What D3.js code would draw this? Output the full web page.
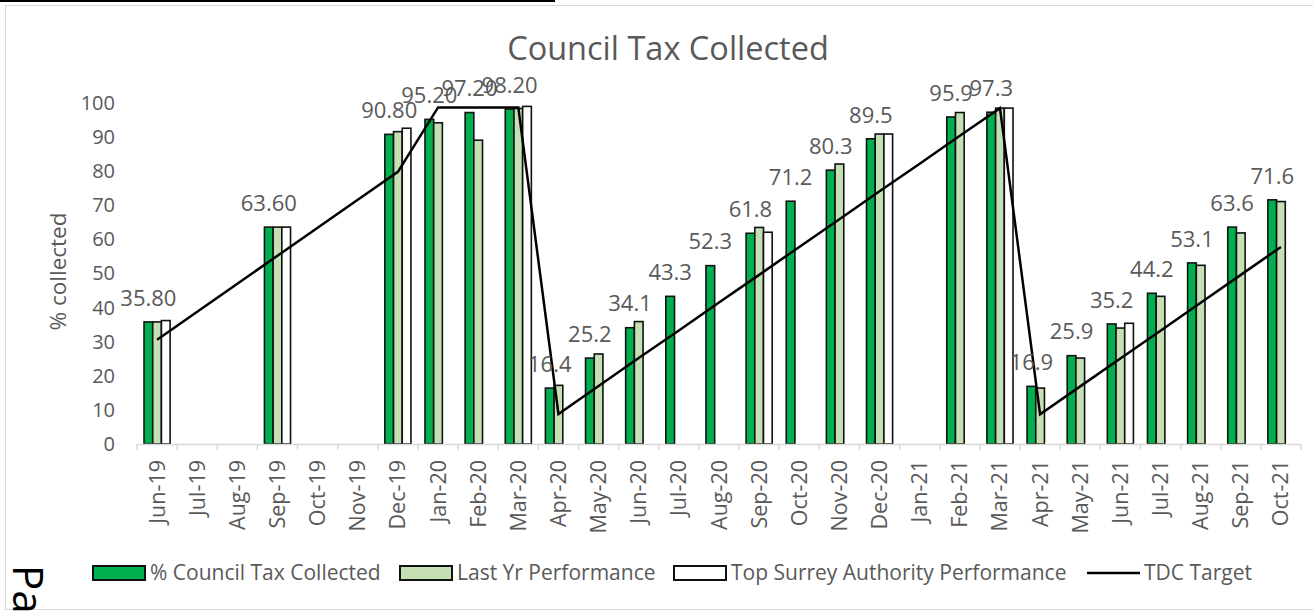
<!DOCTYPE html>
<html>
<head>
<meta charset="utf-8">
<script src="https://cdn.jsdelivr.net/npm/d3@7"></script>
<style>
  body { margin: 0; background: #fff; }
  svg { font-family: "Open Sans", sans-serif; }
</style>
</head>
<body>
<div id="plot"></div>
<script>
// data
var months = ["Jun-19","Jul-19","Aug-19","Sep-19","Oct-19","Nov-19","Dec-19","Jan-20","Feb-20","Mar-20",
              "Apr-20","May-20","Jun-20","Jul-20","Aug-20","Sep-20","Oct-20","Nov-20","Dec-20","Jan-21",
              "Feb-21","Mar-21","Apr-21","May-21","Jun-21","Jul-21","Aug-21","Sep-21","Oct-21"];
var collected = [35.8,null,null,63.6,null,null,90.8,95.2,97.2,98.2,
                 16.4,25.2,34.1,43.3,52.3,61.8,71.2,80.3,89.5,null,
                 95.9,97.3,16.9,25.9,35.2,44.2,53.1,63.6,71.6];
var lastYear = [35.8,null,null,63.6,null,null,91.6,94.2,89.1,98.4,
                17.2,26.4,35.9,null,null,63.5,null,82.1,90.9,null,
                97.2,98.5,16.4,25.2,34.0,43.3,52.4,61.9,71.1];
var topSurrey = [36.2,null,null,63.6,null,null,92.6,null,null,99.0,
                 null,null,null,null,null,62.1,null,null,90.9,null,
                 null,98.5,null,null,35.4,null,null,null,null];
var target = [30.6,38.8,47.0,55.2,63.4,71.6,79.8,98.7,98.7,98.7,
              8.8,17.0,25.2,33.3,41.5,49.6,57.8,65.9,74.1,82.2,
              90.4,98.5,8.7,16.9,25.1,33.2,41.4,49.6,57.8];
// first year labels were shown with two decimals
var labelDecimals = [2,2,2,2,2,2,2,2,2,2,
                     1,1,1,1,1,1,1,1,1,1,
                     1,1,1,1,1,1,1,1,1];
var yTicks = [0,10,20,30,40,50,60,70,80,90,100];
var seriesNames = ["% Council Tax Collected","Last Yr Performance","Top Surrey Authority Performance","TDC Target"];
var barColors = ["#00b050","#c5e0b4","#ffffff"];

var margin = {top: 103, right: 12, bottom: 167, left: 137},
    width = 1313 - margin.left - margin.right,
    height = 611 - margin.top - margin.bottom;

var svg0 = d3.select("#plot").append("svg")
    .attr("width", 1313)
    .attr("height", 611);

// chart border and the bits of page around it
svg0.append("rect")
    .attr("x", 5.5).attr("y", 5.5)
    .attr("width", 1320).attr("height", 604)
    .attr("fill", "none").attr("stroke", "#d9d9d9").attr("stroke-width", 1);
svg0.append("line")
    .attr("x1", 0).attr("x2", 555).attr("y1", 1).attr("y2", 1)
    .attr("stroke", "#000").attr("stroke-width", 2);
svg0.append("text")
    .attr("transform", "translate(13,565) rotate(90)")
    .attr("font-size", 42)
    .attr("fill", "#000")
    .text("Pa");

// title
svg0.append("text")
    .attr("x", 668).attr("y", 60)
    .attr("text-anchor", "middle")
    .attr("font-size", 32.5)
    .attr("fill", "#595959")
    .text("Council Tax Collected");

var svg = svg0.append("g")
    .attr("transform", "translate(" + margin.left + "," + margin.top + ")");

var x = d3.scaleBand().domain(months).range([0, width]).padding(0);
var y = d3.scaleLinear().domain([0, 100]).range([height, 0]);
var xSub = d3.scaleBand().domain([0,1,2])
    .range([x.bandwidth() * 0.175, x.bandwidth() * 0.825]).padding(0);

// y axis (labels only)
var yAxis = svg.append("g")
    .call(d3.axisLeft(y).tickValues(yTicks).tickSize(0).tickPadding(22));
yAxis.select(".domain").remove();
yAxis.selectAll("text")
    .attr("font-family", "Open Sans")
    .attr("font-size", 20)
    .attr("fill", "#595959");

// y axis title
svg.append("text")
    .attr("transform", "translate(-79," + (height / 2 - 2) + ") rotate(-90)")
    .attr("text-anchor", "middle")
    .attr("dy", "0.35em")
    .attr("font-size", 22.5)
    .attr("fill", "#595959")
    .text("% collected");

// bars
var barSeries = [collected, lastYear, topSurrey];
barSeries.forEach(function(vals, s) {
  svg.append("g").selectAll("rect")
      .data(months.map(function(m, i) { return {m: m, v: vals[i]}; })
                  .filter(function(d) { return d.v != null; }))
    .enter().append("rect")
      .attr("x", function(d) { return x(d.m) + xSub(s); })
      .attr("width", xSub.bandwidth())
      .attr("y", function(d) { return y(d.v); })
      .attr("height", function(d) { return height - y(d.v); })
      .attr("fill", barColors[s])
      .attr("stroke", "#111")
      .attr("stroke-width", 1.6);
});

// x axis
var xAxis = svg.append("g")
    .attr("transform", "translate(0," + height + ")")
    .call(d3.axisBottom(x).tickSize(0).tickPadding(10));
xAxis.select(".domain").attr("stroke", "#d9d9d9").attr("stroke-width", 1.5);
xAxis.selectAll("text")
    .attr("font-family", "Open Sans")
    .attr("font-size", 21.5)
    .attr("fill", "#595959")
    .attr("text-anchor", "end")
    .attr("transform", "rotate(-90)")
    .attr("x", -16).attr("y", 0).attr("dy", "0.35em");
// category boundary ticks
svg.append("g").selectAll("line")
    .data(months.concat(["end"]))
  .enter().append("line")
    .attr("x1", function(d, i) { return i * x.step(); })
    .attr("x2", function(d, i) { return i * x.step(); })
    .attr("y1", height).attr("y2", height + 6)
    .attr("stroke", "#d9d9d9").attr("stroke-width", 1.5);

// target line
var line = d3.line()
    .defined(function(d) { return d != null; })
    .x(function(d, i) { return x(months[i]) + x.bandwidth() / 2; })
    .y(function(d) { return y(d); });
svg.append("path")
    .datum(target)
    .attr("fill", "none")
    .attr("stroke", "#000")
    .attr("stroke-width", 2.5)
    .attr("d", line);

// data labels
svg.append("g").selectAll("text")
    .data(months.map(function(m, i) { return {m: m, v: collected[i], dec: labelDecimals[i]}; })
                .filter(function(d) { return d.v != null; }))
  .enter().append("text")
    .attr("x", function(d) { return x(d.m) + xSub(0) + xSub.bandwidth() / 2; })
    .attr("y", function(d) { return y(d.v) - 24; })
    .attr("dy", "0.35em")
    .attr("text-anchor", "middle")
    .attr("font-size", 22)
    .attr("fill", "#595959")
    .text(function(d) { return d.v.toFixed(d.dec); });

// legend
var legendX = [93, 400, 674, 1087];
var legend = svg0.append("g");
seriesNames.forEach(function(name, i) {
  var g = legend.append("g").attr("transform", "translate(" + legendX[i] + ",573)");
  if (i < 3) {
    g.append("rect")
        .attr("x", 0).attr("y", -7).attr("width", 52).attr("height", 14)
        .attr("fill", barColors[i]).attr("stroke", "#111").attr("stroke-width", 2);
  } else {
    g.append("line")
        .attr("x1", 0).attr("x2", 53).attr("y1", 0).attr("y2", 0)
        .attr("stroke", "#000").attr("stroke-width", 2.5);
  }
  g.append("text")
      .attr("x", 57).attr("dy", "0.35em")
      .attr("font-size", 21)
      .attr("fill", "#595959")
      .text(name);
});
</script>
</body>
</html>
